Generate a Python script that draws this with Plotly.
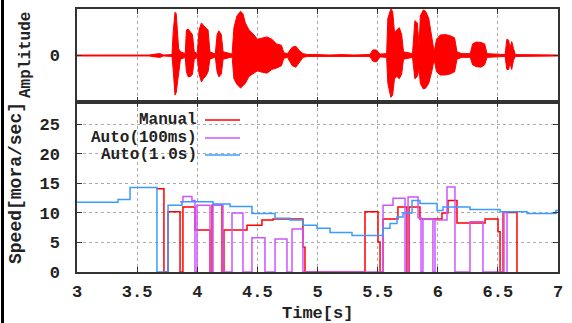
import plotly.graph_objects as go

# ---------------- data ----------------
# Waveform envelope (time [s], upper, lower amplitude)
amp_t = [3.00, 3.30, 3.45, 3.60, 3.65, 3.69, 3.72, 3.79, 3.80, 3.815, 3.825, 3.835, 3.845, 3.86, 3.90,
         3.91, 3.925, 3.945, 3.96, 3.975, 4.00, 4.015, 4.035, 4.05, 4.07, 4.09, 4.105, 4.15, 4.165,
         4.18, 4.20, 4.215, 4.29, 4.305, 4.33, 4.36, 4.38, 4.40, 4.43, 4.47, 4.50, 4.54, 4.58, 4.62,
         4.66, 4.70, 4.72, 4.75, 4.79, 4.82, 4.85, 4.88, 4.92, 5.00, 5.10, 5.20, 5.30, 5.43, 5.44,
         5.46, 5.49, 5.52, 5.575, 5.585, 5.61, 5.625, 5.64, 5.66, 5.68, 5.70, 5.715, 5.79, 5.81,
         5.83, 5.845, 5.855, 5.88, 5.90, 5.925, 5.95, 5.97, 5.99, 6.02, 6.06, 6.10, 6.14, 6.16,
         6.20, 6.27, 6.29, 6.32, 6.36, 6.39, 6.41, 6.56, 6.575, 6.59, 6.60, 6.615, 6.63, 6.645, 7.00]
amp_hi = [0.01, 0.01, 0.02, 0.01, 0.03, 0.04, 0.01, 0.02, 0.50, 0.93, 0.90, 0.40, 0.15, 0.08, 0.04,
          0.55, 0.57, 0.50, 0.45, 0.08, 0.04, 0.55, 0.70, 0.65, 0.60, 0.55, 0.08, 0.03, 0.45,
          0.53, 0.45, 0.08, 0.03, 0.60, 0.85, 0.95, 0.90, 0.70, 0.55, 0.45, 0.35, 0.38, 0.40, 0.35,
          0.25, 0.22, 0.06, 0.04, 0.18, 0.20, 0.10, 0.04, 0.02, 0.02, 0.01, 0.02, 0.01, 0.02, 0.04,
          0.12, 0.12, 0.03, 0.04, 0.80, 1.00, 0.95, 0.50, 0.55, 0.60, 0.45, 0.08, 0.04, 0.75,
          0.70, 0.20, 0.85, 0.98, 0.95, 0.80, 0.40, 0.08, 0.35, 0.44, 0.45, 0.43, 0.38, 0.08,
          0.04, 0.04, 0.25, 0.29, 0.28, 0.25, 0.04, 0.02, 0.35, 0.33, 0.15, 0.30, 0.15, 0.02, 0.01]
amp_lo = [-0.01, -0.01, -0.02, -0.01, -0.03, -0.04, -0.01, -0.02, -0.30, -0.85, -0.80, -0.60, -0.30, -0.08, -0.04,
          -0.35, -0.46, -0.45, -0.40, -0.08, -0.04, -0.40, -0.57, -0.50, -0.45, -0.35, -0.08, -0.03, -0.35,
          -0.46, -0.40, -0.08, -0.03, -0.50, -0.62, -0.70, -0.65, -0.60, -0.45, -0.38, -0.33, -0.36, -0.38, -0.30,
          -0.27, -0.22, -0.06, -0.04, -0.22, -0.25, -0.15, -0.04, -0.02, -0.02, -0.01, -0.02, -0.01, -0.02, -0.04,
          -0.12, -0.14, -0.03, -0.04, -0.60, -0.90, -0.85, -0.50, -0.45, -0.50, -0.40, -0.08, -0.04, -0.50,
          -0.45, -0.30, -0.60, -0.72, -0.70, -0.60, -0.35, -0.08, -0.35, -0.42, -0.42, -0.40, -0.35, -0.08,
          -0.04, -0.04, -0.20, -0.24, -0.25, -0.20, -0.04, -0.02, -0.30, -0.30, -0.15, -0.30, -0.10, -0.02, -0.01]

# Speaking rate step series (step start time [s], value [mora/sec])
manual_t = [3.657, 3.723, 3.757, 3.857, 3.881, 3.981, 4.106, 4.123, 4.206, 4.222, 4.414, 4.538, 4.630,
            4.879, 4.896, 5.395, 5.503, 5.520, 5.545, 5.669, 5.744, 5.761, 5.852, 6.035, 6.085, 6.160,
            6.393, 6.501, 6.518, 6.543, 6.659]
manual_v = [14.1, 0, 10.2, 0, 11.0, 7.1, 0, 11.3, 0, 7.1, 7.9, 8.8, 9.0,
            4.2, 0, 10.2, 5.1, 0, 9.0, 11.0, 0, 11.0, 9.0, 10.0, 12.1, 8.3,
            9.0, 6.8, 0, 10.1, 0]

auto100_t = [3.857, 3.881, 3.956, 3.981, 3.998, 4.106, 4.131, 4.214, 4.289, 4.380, 4.455, 4.563,
             4.647, 4.746, 4.788, 4.879, 5.545, 5.628, 5.728, 5.753, 5.836, 5.861, 5.877, 5.960,
             5.977, 6.077, 6.143, 6.268, 6.376, 6.551, 6.576]
auto100_v = [11.9, 12.8, 12.1, 0, 11.3, 0, 11.3, 0, 10.0, 0, 5.8, 0,
             5.6, 0, 7.3, 0, 11.3, 12.5, 0, 12.7, 9.2, 0, 9.0, 0,
             8.8, 14.4, 0, 8.5, 0, 10.2, 0]

auto1s_t = [3.000, 3.341, 3.441, 3.665, 3.757, 3.873, 4.131, 4.272, 4.455, 4.647, 4.771, 4.879,
            4.996, 5.104, 5.287, 5.545, 5.603, 5.661, 5.711, 5.786, 5.852, 5.994, 6.044, 6.268,
            6.518, 6.742, 6.983, 7.000]
auto1s_v = [11.8, 12.3, 14.3, 0, 11.3, 11.9, 11.5, 11.1, 9.9, 9.1, 8.8, 7.9,
            7.4, 6.7, 6.2, 7.4, 8.2, 9.3, 10.0, 12.1, 11.6, 10.4, 11.0, 10.6,
            10.2, 9.9, 10.4, 10.4]

x_ticks = [3, 3.5, 4, 4.5, 5, 5.5, 6, 6.5, 7]
x_tick_labels = ["3", "3.5", "4", "4.5", "5", "5.5", "6", "6.5", "7"]
y_ticks = [0, 5, 10, 15, 20, 25]

series_names = ["Manual", "Auto(100ms)", "Auto(1.0s)"]
series_colors = ["#ff0000", "#cc55ff", "#3d9bff"]

# ---------------- figure ----------------
FONT = "Liberation Mono"
TXT = "#222222"
AX = "#333333"

def tf(size):
    return dict(family=FONT, size=size, color=TXT, weight="bold")

fig = go.Figure()

# waveform (top panel)
fig.add_trace(go.Scatter(x=amp_t, y=amp_hi, xaxis="x2", yaxis="y2", mode="lines",
                         line=dict(color="#ff0000", width=1), showlegend=False, hoverinfo="skip"))
fig.add_trace(go.Scatter(x=amp_t, y=amp_lo, xaxis="x2", yaxis="y2", mode="lines", fill="tonexty",
                         fillcolor="#ff0000",
                         line=dict(color="#ff0000", width=1), showlegend=False, hoverinfo="skip"))

# speed steps (bottom panel)
for (tx, vy), name, col in zip([(manual_t, manual_v), (auto100_t, auto100_v), (auto1s_t, auto1s_v)],
                               series_names, series_colors):
    fig.add_trace(go.Scatter(x=tx, y=vy, mode="lines", line=dict(color=col, width=1.5, shape="hv"),
                             name=name, showlegend=False))

H = 263.0
split = 170.0 / H

common_x = dict(range=[3, 7], tickvals=x_ticks, ticktext=x_tick_labels, ticks="inside", ticklen=5,
                tickcolor=AX, showline=True, linecolor=AX, linewidth=1.5, mirror="ticks",
                showgrid=True, gridcolor="#aaaaaa", griddash="dot", gridwidth=1, zeroline=False,
                tickfont=tf(17), automargin=False)

fig.update_layout(
    width=572, height=323,
    margin=dict(l=77, r=14, t=9, b=51),
    paper_bgcolor="white", plot_bgcolor="white",
    xaxis=dict(**common_x, anchor="y", ticklabelstandoff=3),
    yaxis=dict(domain=[0, split], range=[0, 28.8], tickvals=y_ticks, ticks="inside", ticklen=5,
               tickcolor=AX, showline=True, linecolor=AX, linewidth=1.5, mirror="ticks",
               showgrid=True, gridcolor="#aaaaaa", griddash="dot", gridwidth=1, zeroline=False,
               tickfont=tf(17), ticklabelstandoff=12, automargin=False),
    xaxis2=dict(**common_x, anchor="y2", matches="x", showticklabels=False),
    yaxis2=dict(domain=[split, 1], range=[-1, 1], tickvals=[0], ticktext=["0"], ticks="inside", ticklen=5,
                tickcolor=AX, showline=True, linecolor=AX, linewidth=1.5, mirror="ticks",
                showgrid=False, zeroline=False,
                tickfont=tf(17), ticklabelstandoff=12, automargin=False),
    showlegend=False,
)

def px_x(p):
    return (p - 77) / 481.0

def px_y(p):
    return (272 - p) / H

ann = []
ann.append(dict(text="Amplitude", x=px_x(26), y=px_y(55), xref="paper", yref="paper", textangle=-90,
                showarrow=False, font=tf(16), xanchor="center", yanchor="middle"))
ann.append(dict(text="Speed[mora/sec]", x=px_x(16), y=px_y(183), xref="paper", yref="paper", textangle=-90,
                showarrow=False, font=tf(18), xanchor="center", yanchor="middle"))
ann.append(dict(text="Time[s]", x=0.5, y=px_y(313), xref="paper", yref="paper",
                showarrow=False, font=tf(17), xanchor="center", yanchor="middle"))

shapes = []
key_y = [120, 138, 155]
for name, col, ky in zip(series_names, series_colors, key_y):
    ann.append(dict(text=name, x=px_x(199), y=px_y(ky), xref="paper", yref="paper", showarrow=False,
                    font=tf(16), xanchor="right", yanchor="middle"))
    shapes.append(dict(type="line", xref="paper", yref="paper", x0=px_x(205), x1=px_x(240),
                       y0=px_y(ky), y1=px_y(ky), line=dict(color=col, width=1.5)))

# outer left frame line
shapes.append(dict(type="line", xref="paper", yref="paper", x0=px_x(2.5), x1=px_x(2.5),
                   y0=px_y(0), y1=px_y(323), line=dict(color="black", width=3)))

fig.update_layout(annotations=ann, shapes=shapes)

fig.write_html("out.html", config={"displayModeBar": False},
               post_script="document.body.style.margin='0px';")
